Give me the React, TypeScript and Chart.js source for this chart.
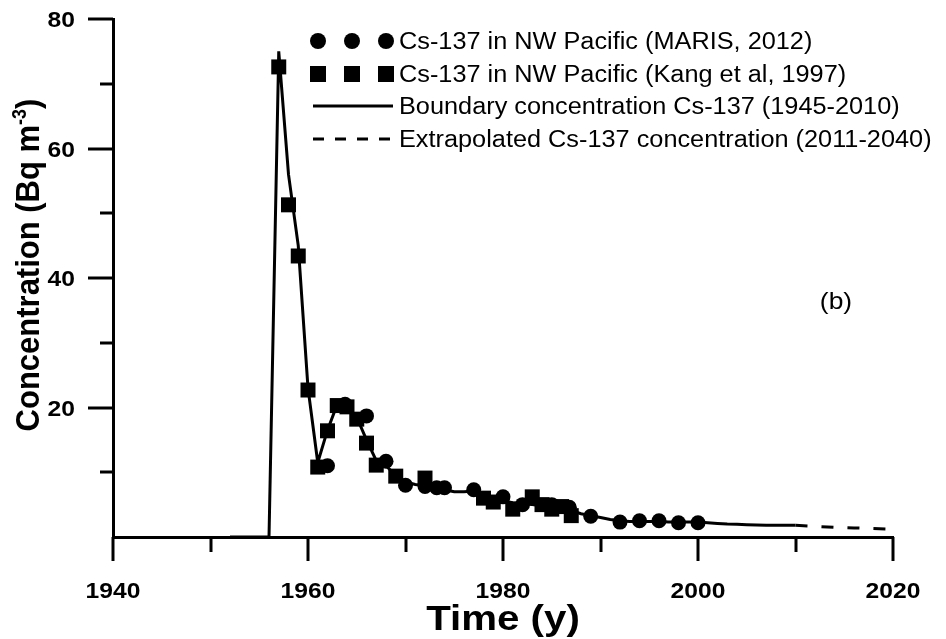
import React, { useEffect, useRef } from 'react';
import { Chart, registerables } from 'chart.js';

Chart.register(...registerables);

// ---------- data ----------
const boundaryYears = [
  1952, 1953, 1954, 1955, 1956, 1957, 1958, 1959, 1960, 1961, 1962, 1963, 1964, 1965, 1966,
  1967, 1968, 1969, 1970, 1971, 1972, 1973, 1974, 1975, 1976, 1977, 1978, 1979, 1980, 1981,
  1982, 1983, 1984, 1985, 1986, 1987, 1988, 1989, 1990, 1991, 1992, 1993, 1994, 1995, 1996,
  1997, 1998, 1999, 2000, 2001, 2002, 2003, 2004, 2005, 2006, 2007, 2008, 2009, 2010,
];
const boundaryValues = [
  0, 0, 0, 0, 0, 75, 56, 45, 23, 11.5, 16.5, 20.5, 20.2, 18.5, 15,
  11.8, 11, 9.5, 8.5, 8.1, 7.9, 7.6, 7.3, 7.0, 7.0, 7.1, 6.6, 6.0, 5.6, 5.3,
  5.1, 5.0, 4.8, 4.6, 4.4, 4.1, 3.6, 3.3, 3.0, 2.7, 2.5, 2.4, 2.4, 2.4, 2.4,
  2.3, 2.3, 2.3, 2.3, 2.2, 2.1, 2.0, 1.95, 1.9, 1.85, 1.8, 1.8, 1.8, 1.8,
];
const extrapYears = [2010, 2012, 2014, 2016, 2018, 2020];
const extrapValues = [1.8, 1.65, 1.5, 1.4, 1.3, 1.2];

const marisYears = [1962, 1963.8, 1966, 1968, 1970, 1972, 1973.2, 1974, 1977, 1980, 1982, 1985, 1986.8, 1989, 1992, 1994, 1996, 1998, 2000];
const marisValues = [11.0, 20.5, 18.7, 11.7, 8.0, 7.8, 7.6, 7.6, 7.3, 6.2, 5.0, 5.0, 4.6, 3.2, 2.3, 2.5, 2.5, 2.2, 2.2];

const kangYears = [1957, 1958, 1959, 1960, 1961, 1962, 1963, 1964, 1965, 1966, 1967, 1969, 1972, 1978, 1979, 1981, 1983, 1984, 1985, 1986, 1987];
const kangValues = [72.6, 51.3, 43.4, 22.7, 10.8, 16.4, 20.3, 20.1, 18.2, 14.5, 11.1, 9.4, 9.1, 6.0, 5.4, 4.3, 6.2, 5.0, 4.3, 4.7, 3.3];

const xMajorTicks = [1940, 1960, 1980, 2000, 2020];
const xMinorTicks = [1950, 1970, 1990, 2010];
const yMajorTicks = [20, 40, 60, 80];
const yMinorTicks = [10, 30, 50, 70];

const seriesLabels = [
  'Cs-137 in NW Pacific (MARIS, 2012)',
  'Cs-137 in NW Pacific (Kang et al, 1997)',
  'Boundary concentration Cs-137 (1945-2010)',
  'Extrapolated Cs-137 concentration (2011-2040)',
];
const xTitle = 'Time (y)';
const yTitleMain = 'Concentration (Bq m';
const yTitleSup = '-3';
const yTitleEnd = ')';
const panelLabel = '(b)';

const FONT = "'Liberation Sans', Arial, Helvetica, sans-serif";
const SX = 1.1; // slight horizontal stretch of the original figure's text

const toPoints = (xs: number[], ys: number[]) => xs.map((x, i) => ({ x, y: ys[i] }));

function stretchedText(
  ctx: CanvasRenderingContext2D,
  text: string,
  x: number,
  y: number,
  font: string,
  align: CanvasTextAlign,
  baseline: CanvasTextBaseline,
  sx: number = SX,
) {
  ctx.save();
  ctx.translate(x, y);
  ctx.scale(sx, 1);
  ctx.font = font;
  ctx.textAlign = align;
  ctx.textBaseline = baseline;
  ctx.fillText(text, 0, 0);
  ctx.restore();
}

const decorPlugin = {
  id: 'decor',
  afterDraw(chart: any) {
    const ctx = chart.ctx as CanvasRenderingContext2D;
    const area = chart.chartArea;
    const xs = chart.scales.x;
    const ys = chart.scales.y;
    ctx.save();
    ctx.strokeStyle = '#000';
    ctx.fillStyle = '#000';
    ctx.lineWidth = 3;
    ctx.lineCap = 'butt';
    const drawX = (v: number, len: number) => {
      const px = Math.round(xs.getPixelForValue(v));
      ctx.beginPath();
      ctx.moveTo(px, area.bottom);
      ctx.lineTo(px, area.bottom + len);
      ctx.stroke();
    };
    xMajorTicks.forEach((v) => drawX(v, 24));
    xMinorTicks.forEach((v) => drawX(v, 15));
    const drawY = (v: number, len: number) => {
      const py = Math.round(ys.getPixelForValue(v));
      ctx.beginPath();
      ctx.moveTo(area.left, py);
      ctx.lineTo(area.left - len, py);
      ctx.stroke();
    };
    yMajorTicks.forEach((v) => drawY(v, 25));
    yMinorTicks.forEach((v) => drawY(v, 13));

    // tick labels
    const tickFont = `bold 22px ${FONT}`;
    xMajorTicks.forEach((v) => {
      stretchedText(ctx, String(v), xs.getPixelForValue(v), 598, tickFont, 'center', 'alphabetic', 1.12);
    });
    yMajorTicks.forEach((v) => {
      stretchedText(ctx, String(v), 75, ys.getPixelForValue(v) + 8, tickFont, 'right', 'alphabetic', 1.12);
    });

    // x title
    stretchedText(ctx, xTitle, (area.left + area.right) / 2, 630, `bold 35px ${FONT}`, 'center', 'alphabetic', 1.15);

    // y title with superscript (rotated)
    ctx.save();
    ctx.translate(39, 265);
    ctx.rotate(-Math.PI / 2);
    ctx.scale(1, 1.1);
    const mainFont = `bold 31px ${FONT}`;
    const supFont = `bold 18px ${FONT}`;
    ctx.font = mainFont;
    const w1 = ctx.measureText(yTitleMain).width;
    const w3 = ctx.measureText(yTitleEnd).width;
    ctx.font = supFont;
    const w2 = ctx.measureText(yTitleSup).width;
    let x0 = -(w1 + w2 + w3) / 2;
    ctx.textAlign = 'left';
    ctx.textBaseline = 'alphabetic';
    ctx.font = mainFont;
    ctx.fillText(yTitleMain, x0, 0);
    x0 += w1;
    ctx.font = supFont;
    ctx.fillText(yTitleSup, x0, -12);
    x0 += w2;
    ctx.font = mainFont;
    ctx.fillText(yTitleEnd, x0, 0);
    ctx.restore();

    // panel label
    stretchedText(ctx, panelLabel, 836, 309, `24px ${FONT}`, 'center', 'alphabetic');

    // legend
    const rows = [41, 74, 106, 139];
    const symX = [318, 352, 386];
    const ds = chart.data.datasets;
    rows.forEach((ry, i) => {
      const d = ds[i];
      ctx.fillStyle = '#000';
      if (i === 0) {
        symX.forEach((sx) => {
          ctx.beginPath();
          ctx.arc(sx, ry, 8, 0, Math.PI * 2);
          ctx.fill();
        });
      } else if (i === 1) {
        symX.forEach((sx) => {
          ctx.fillRect(sx - 8, ry - 8, 16, 16);
        });
      } else {
        ctx.save();
        ctx.lineWidth = d.borderWidth;
        ctx.setLineDash(i === 3 ? [11, 11] : []);
        ctx.beginPath();
        ctx.moveTo(313, ry);
        ctx.lineTo(393, ry);
        ctx.stroke();
        ctx.restore();
      }
      stretchedText(ctx, d.label, 399, ry + 8, `23px ${FONT}`, 'left', 'alphabetic', 1.1);
    });
    ctx.restore();
  },
};

export default function App() {
  const ref = useRef<HTMLCanvasElement | null>(null);
  useEffect(() => {
    if (!ref.current) return;
    const chart = new Chart(ref.current, {
      type: 'scatter',
      data: {
        datasets: [
          {
            label: seriesLabels[0],
            data: toPoints(marisYears, marisValues),
            pointStyle: 'circle',
            pointRadius: 7.5,
            backgroundColor: '#000',
            borderColor: '#000',
            borderWidth: 0,
            showLine: false,
          },
          {
            label: seriesLabels[1],
            data: toPoints(kangYears, kangValues),
            pointStyle: 'rect',
            pointRadius: 10.6,
            backgroundColor: '#000',
            borderColor: '#000',
            borderWidth: 0,
            showLine: false,
          },
          {
            label: seriesLabels[2],
            type: 'line',
            data: toPoints(boundaryYears, boundaryValues),
            borderColor: '#000',
            borderWidth: 3,
            pointRadius: 0,
            showLine: true,
            fill: false,
            tension: 0,
          },
          {
            label: seriesLabels[3],
            type: 'line',
            data: toPoints(extrapYears, extrapValues),
            borderColor: '#000',
            borderWidth: 3,
            borderDash: [12, 14],
            pointRadius: 0,
            showLine: true,
            fill: false,
            tension: 0,
          },
        ] as any,
      },
      options: {
        animation: false,
        responsive: false,
        maintainAspectRatio: false,
        layout: { padding: { top: 19, right: 53, left: 0, bottom: 0 } },
        plugins: { legend: { display: false }, tooltip: { enabled: false } },
        scales: {
          x: {
            type: 'linear',
            min: 1940,
            max: 2020,
            afterBuildTicks: (s: any) => {
              s.ticks = xMajorTicks.map((v) => ({ value: v }));
            },
            ticks: { display: false },
            grid: { display: true, drawOnChartArea: false, drawTicks: false },
            border: { display: true, color: '#000', width: 3 },
            afterFit: (s: any) => {
              s.height = 102;
              s.paddingLeft = 0;
              s.paddingRight = 0;
            },
          },
          y: {
            type: 'linear',
            min: 0,
            max: 80,
            afterBuildTicks: (s: any) => {
              s.ticks = yMajorTicks.map((v) => ({ value: v }));
            },
            ticks: { display: false },
            grid: { display: true, drawOnChartArea: false, drawTicks: false },
            border: { display: true, color: '#000', width: 3 },
            afterFit: (s: any) => {
              s.width = 113;
              s.paddingTop = 0;
              s.paddingBottom = 0;
            },
          },
        },
      } as any,
      plugins: [decorPlugin],
    });
    return () => chart.destroy();
  }, []);
  return (
    <div style={{ position: 'fixed', left: 0, top: 0, width: 946, height: 639, background: '#fff' }}>
      <canvas ref={ref} width={946} height={639} style={{ width: 946, height: 639, display: 'block' }} />
    </div>
  );
}
